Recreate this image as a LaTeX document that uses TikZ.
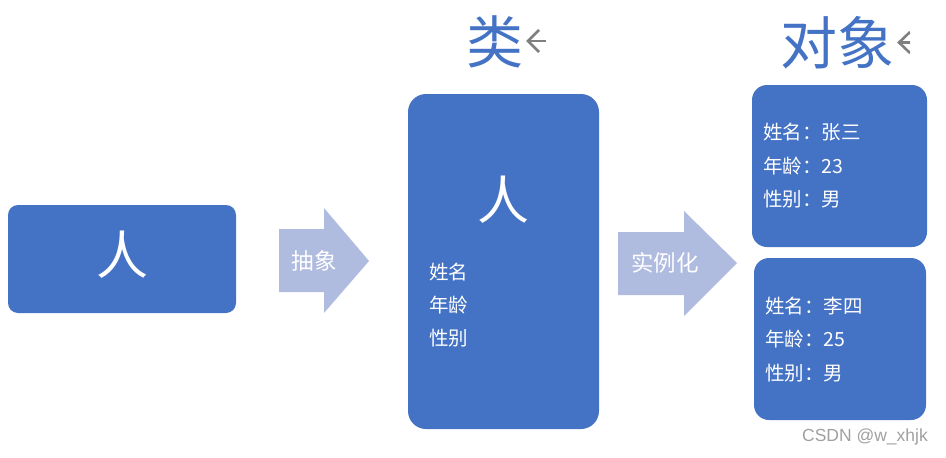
\documentclass[tikz,border=0pt]{standalone}
\usepackage{fontspec}
\setmainfont{Noto Sans CJK SC}
\newfontfamily\wmfont{Liberation Sans}
\definecolor{boxblue}{HTML}{4472C4}
\definecolor{arrowfill}{HTML}{B0BCDF}
\definecolor{cursorgray}{HTML}{7F7F7F}
\definecolor{wmgray}{HTML}{A0A0A0}
\begin{document}
\begin{tikzpicture}[x=1pt,y=-1pt,
  box/.style={fill=boxblue, draw=none, inner sep=0pt},
  bigchar/.style={text=white, inner sep=0pt, font=\fontsize{52}{52}\selectfont},
  rowtext/.style={text=white, inner sep=0pt, anchor=west, font=\fontsize{19.5}{20}\selectfont},
  arrowlabel/.style={text=white, inner sep=0pt, font=\fontsize{22.5}{23}\selectfont},
  blockarrow/.style={fill=arrowfill, draw=none},
  heading/.style={text=boxblue, inner sep=0pt, font=\fontsize{57}{57}\selectfont},
  cursor/.style={draw=cursorgray, line width=2.6pt}]
\useasboundingbox (0,0) rectangle (946,458);

% left box
\node[box, rounded corners=10pt, minimum width=228pt, minimum height=108pt] (person) at (122,259) {};
\node[bigchar] (personchar) at (122,255) {人};

% arrow 1
\coordinate (a1) at (279,229);
\draw[blockarrow] (a1) -- (324,229) -- (324,208) -- (369,261) -- (324,313) -- (324,292) -- (279,292) -- cycle;
\node[arrowlabel] (abstr) at (314,261) {抽象};

% middle class box
\node[box, rounded corners=18pt, minimum width=191pt, minimum height=335pt] (cls) at (503.5,261.5) {};
\node[bigchar] (clschar) at (503,200) {人};
\node[rowtext] (c1) at (429,272) {姓名};
\node[rowtext] (c2) at (429,305) {年龄};
\node[rowtext] (c3) at (429,338) {性别};

% arrow 2
\draw[blockarrow] (618,232) -- (684,232) -- (684,211) -- (737,263) -- (684,316) -- (684,295) -- (618,295) -- cycle;
\node[arrowlabel] (inst) at (665,263) {实例化};

% object boxes
\node[box, rounded corners=15pt, minimum width=175pt, minimum height=162pt] (obj1) at (839.5,166) {};
\node[rowtext] (o11) at (763,132) {姓名：张三};
\node[rowtext] (o12) at (763,166) {年龄：23};
\node[rowtext] (o13) at (763,199) {性别：男};

\node[box, rounded corners=15pt, minimum width=172pt, minimum height=162pt] (obj2) at (840,339) {};
\node[rowtext] (o21) at (765,306) {姓名：李四};
\node[rowtext] (o22) at (765,339) {年龄：25};
\node[rowtext] (o23) at (765,373) {性别：男};

% headings
\node[heading] (hcls) at (495,42) {类};
\node[heading] (hobj) at (837,43) {对象};
\draw[cursor] (539,30) -- (528,41) -- (539,52);
\draw[cursor] (528,41) -- (546,41);
\begin{scope}
\clip (880,20) rectangle (910,60);
\draw[cursor] (910,32) -- (899,42.5) -- (910,53);
\draw[cursor] (899,42.5) -- (918,42.5);
\end{scope}

% watermark
\node[text=wmgray, inner sep=0pt, font=\wmfont\fontsize{17.5}{18}\selectfont] (wm) at (865,437) {CSDN @w\_xhjk};
\end{tikzpicture}
\end{document}
